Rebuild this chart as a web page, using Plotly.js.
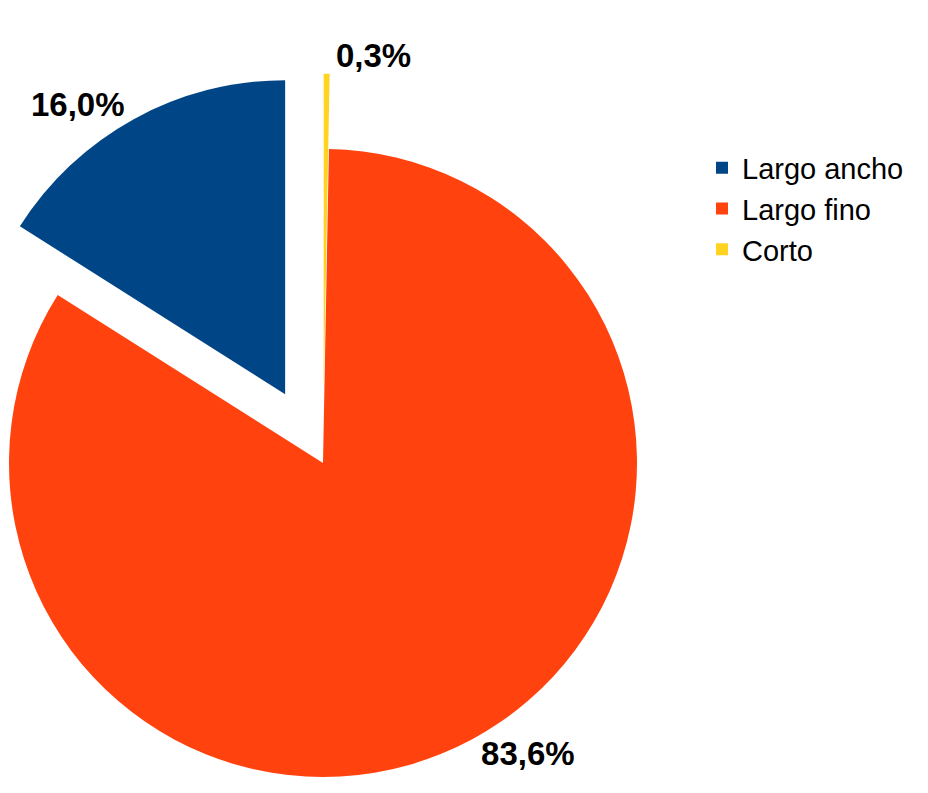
<!DOCTYPE html>
<html>
<head>
<meta charset="utf-8">
<script src="https://cdn.plot.ly/plotly-3.0.1.min.js"></script>
<style>
  html, body { margin: 0; padding: 0; width: 928px; height: 793px; overflow: hidden; background: #ffffff; }
  #chart { position: absolute; left: -80px; top: 0px; width: 1008px; height: 870px; }
</style>
</head>
<body>
<div id="chart"></div>
<script>
// Data
const labels = ['Largo ancho', 'Largo fino', 'Corto'];
const values = [16.0, 83.6, 0.3];
const sliceColors = ['#004586', '#ff420e', '#ffd320'];

// first slice (Largo ancho) ends at 12 o'clock, running counterclockwise from there
const total = values.reduce((a, b) => a + b, 0);
const startRotation = -360 * values[0] / total;

const labelFont = { family: 'Liberation Sans, Arial, sans-serif', size: 33, color: '#000000', weight: 'bold' };

const trace = {
  type: 'pie',
  labels: labels,
  values: values,
  sort: false,
  direction: 'counterclockwise',
  rotation: startRotation,
  pull: [0.25, 0, 0.24],
  marker: { colors: sliceColors, line: { width: 0 } },
  textposition: 'outside',
  texttemplate: '%{value:.1f}%',
  textfont: labelFont,
  outsidetextfont: labelFont,
  hoverinfo: 'label+percent',
  domain: { x: [0.01042, 0.78919], y: [0.01667, 0.91897] }
};

const layout = {
  width: 1008,
  height: 870,
  margin: { l: 0, r: 0, t: 0, b: 0, pad: 0 },
  paper_bgcolor: '#ffffff',
  plot_bgcolor: '#ffffff',
  separators: ',.',
  showlegend: true,
  legend: {
    x: 0.7758,
    xanchor: 'left',
    y: 0.7598,
    yanchor: 'middle',
    font: { family: 'Liberation Sans, Arial, sans-serif', size: 29, color: '#000000' },
    bgcolor: 'rgba(0,0,0,0)',
    borderwidth: 0
  }
};

Plotly.newPlot('chart', [trace], layout, { displayModeBar: false, staticPlot: true });
</script>
</body>
</html>
